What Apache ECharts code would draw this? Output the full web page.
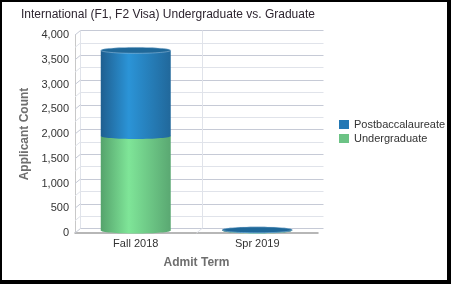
<!DOCTYPE html>
<html><head><meta charset="utf-8">
<script src="https://cdn.jsdelivr.net/npm/echarts@6/dist/echarts.min.js"></script>
<style>
html,body{margin:0;padding:0;background:#000;}
#frame{position:absolute;left:0;top:0;width:451px;height:284px;box-sizing:border-box;border-style:solid;border-color:#000;border-width:2px 4px 4px 2px;background:#fff;}
#chart{width:445px;height:278px;}
</style></head><body><div id="frame"><div id="chart"></div></div>
<script>
const categories = ['Fall 2018', 'Spr 2019'];
const undergraduate = [1910, 3];
const postbaccalaureate = [1730, 10];
const gridTicks = [0, 250, 500, 750, 1000, 1250, 1500, 1750, 2000, 2250, 2500, 2750, 3000, 3250, 3500, 3750, 4000];

const DX = -5.5, DY = 4.5; // depth offset back wall -> front
const gridDark = '#c6cad6', gridLight = '#e0e3ea';
const FONT = 'Liberation Sans, Arial, sans-serif';

const chart = echarts.init(document.getElementById('chart'), null, {renderer: 'canvas'});

function cylinder(colors, capColor, isTop) {
  return function (params, api) {
    const i = api.value(0);
    const b = api.coord([i, api.value(1)]);
    const t = api.coord([i, api.value(2)]);
    const w = api.size([1, 0])[0] * 0.576;
    const x = b[0] - w / 2, rx = w / 2, ry = 3;
    const grad = () => new echarts.graphic.LinearGradient(0, 0, 1, 0, [
      {offset: 0, color: colors[0]}, {offset: 0.4, color: colors[1]}, {offset: 1, color: colors[2]}]);
    const children = [
      {type: 'rect', shape: {x: x, y: t[1], width: w, height: Math.max(b[1] - t[1], 0)}, style: {fill: grad()}},
      {type: 'ellipse', shape: {cx: b[0], cy: b[1], rx: rx, ry: ry}, style: {fill: grad()}}
    ];
    if (isTop) {
      children.push({type: 'ellipse', shape: {cx: t[0], cy: t[1], rx: rx, ry: ry},
        style: {fill: capColor, stroke: 'rgba(190,215,235,0.7)', lineWidth: 0.6}});
    }
    return {type: 'group', children: children};
  };
}

const greenData = categories.map((c, i) => [i, 0, undergraduate[i]]);
const blueData = categories.map((c, i) => [i, undergraduate[i], undergraduate[i] + postbaccalaureate[i]]);

chart.setOption({
  animation: false,
  backgroundColor: '#fff',
  title: {
    text: 'International (F1, F2 Visa) Undergraduate vs. Graduate',
    left: 19, top: 7, padding: 0,
    textStyle: {fontFamily: FONT, fontSize: 12, fontWeight: 'normal', color: '#2e2530'}
  },
  legend: {
    orient: 'vertical', left: 337, top: 117, padding: 0,
    itemWidth: 10, itemHeight: 9, itemGap: 3, icon: 'rect',
    data: ['Postbaccalaureate', 'Undergraduate'],
    textStyle: {fontFamily: FONT, fontSize: 11, color: '#333', overflow: 'none'}
  },
  grid: [
    {left: 73, top: 33, width: 243, height: 198},     // front axes
    {left: 78.5, top: 28.5, width: 243, height: 198}, // back wall
    {left: 73, top: 30.5, width: 243, height: 198}    // bars (mid depth)
  ],
  xAxis: [
    {gridIndex: 0, type: 'category', data: categories,
      axisLine: {show: true, lineStyle: {color: '#a0a0a0', width: 1.5}},
      axisTick: {show: false},
      axisLabel: {fontFamily: FONT, fontSize: 11, color: '#333', margin: 5},
      name: 'Admit Term', nameLocation: 'middle', nameGap: 24,
      nameTextStyle: {fontFamily: FONT, fontSize: 12, fontWeight: 'bold', color: '#6e6e6e'}},
    {gridIndex: 1, type: 'category', data: categories,
      axisLine: {show: false}, axisTick: {show: false}, axisLabel: {show: false},
      splitLine: {show: true, lineStyle: {color: [gridLight, gridLight, 'rgba(0,0,0,0)'], width: 1}}},
    {gridIndex: 2, type: 'category', data: categories, show: false}
  ],
  yAxis: [
    {gridIndex: 0, type: 'value', min: 0, max: 4000, interval: 500,
      axisLine: {show: true, lineStyle: {color: '#c8c8c8'}},
      axisTick: {show: false}, splitLine: {show: false},
      axisLabel: {fontFamily: FONT, fontSize: 11, color: '#333', margin: 6},
      name: 'Applicant Count', nameLocation: 'middle', nameGap: 39,
      nameTextStyle: {fontFamily: FONT, fontSize: 12, fontWeight: 'bold', color: '#6e6e6e'}},
    {gridIndex: 1, type: 'value', min: 0, max: 4000, interval: 250,
      axisLine: {show: false}, axisTick: {show: false}, axisLabel: {show: false},
      splitLine: {show: true, lineStyle: {color: [gridDark, gridLight], width: 1}}},
    {gridIndex: 2, type: 'value', min: 0, max: 4000, show: false}
  ],
  series: [
    {
      name: 'walls', type: 'custom', xAxisIndex: 1, yAxisIndex: 1, silent: true, z: 1,
      data: gridTicks.map(v => [0, v]),
      encode: {x: 0, y: 1},
      renderItem: function (params, api) {
        const p = api.coord([0, api.value(1)]);
        const half = api.size([1, 0])[0] / 2;
        const left = p[0] - half;
        const col = params.dataIndex % 2 === 0 ? gridDark : gridLight;
        const children = [{type: 'line', shape: {x1: left, y1: p[1], x2: left + DX, y2: p[1] + DY},
          style: {stroke: col, lineWidth: 1}}];
        if (params.dataIndex === 0) {
          const mid = p[0] + half;
          children.push({type: 'line', shape: {x1: mid, y1: p[1], x2: mid + DX, y2: p[1] + DY},
            style: {stroke: gridLight, lineWidth: 1}});
        }
        return {type: 'group', children: children};
      }
    },
    {
      name: 'Undergraduate', type: 'custom', xAxisIndex: 2, yAxisIndex: 2, z: 3,
      itemStyle: {color: '#6cc385'},
      data: greenData, encode: {x: 0, y: [1, 2]},
      renderItem: cylinder(['#55a36c', '#7fe598', '#5aa872'], '#6cc385', false)
    },
    {
      name: 'Postbaccalaureate', type: 'custom', xAxisIndex: 2, yAxisIndex: 2, z: 4,
      itemStyle: {color: '#2378b4'},
      data: blueData, encode: {x: 0, y: [1, 2]},
      renderItem: cylinder(['#1f5f90', '#2b94d7', '#21689b'], '#1f6899', true)
    }
  ]
});
</script></body></html>
